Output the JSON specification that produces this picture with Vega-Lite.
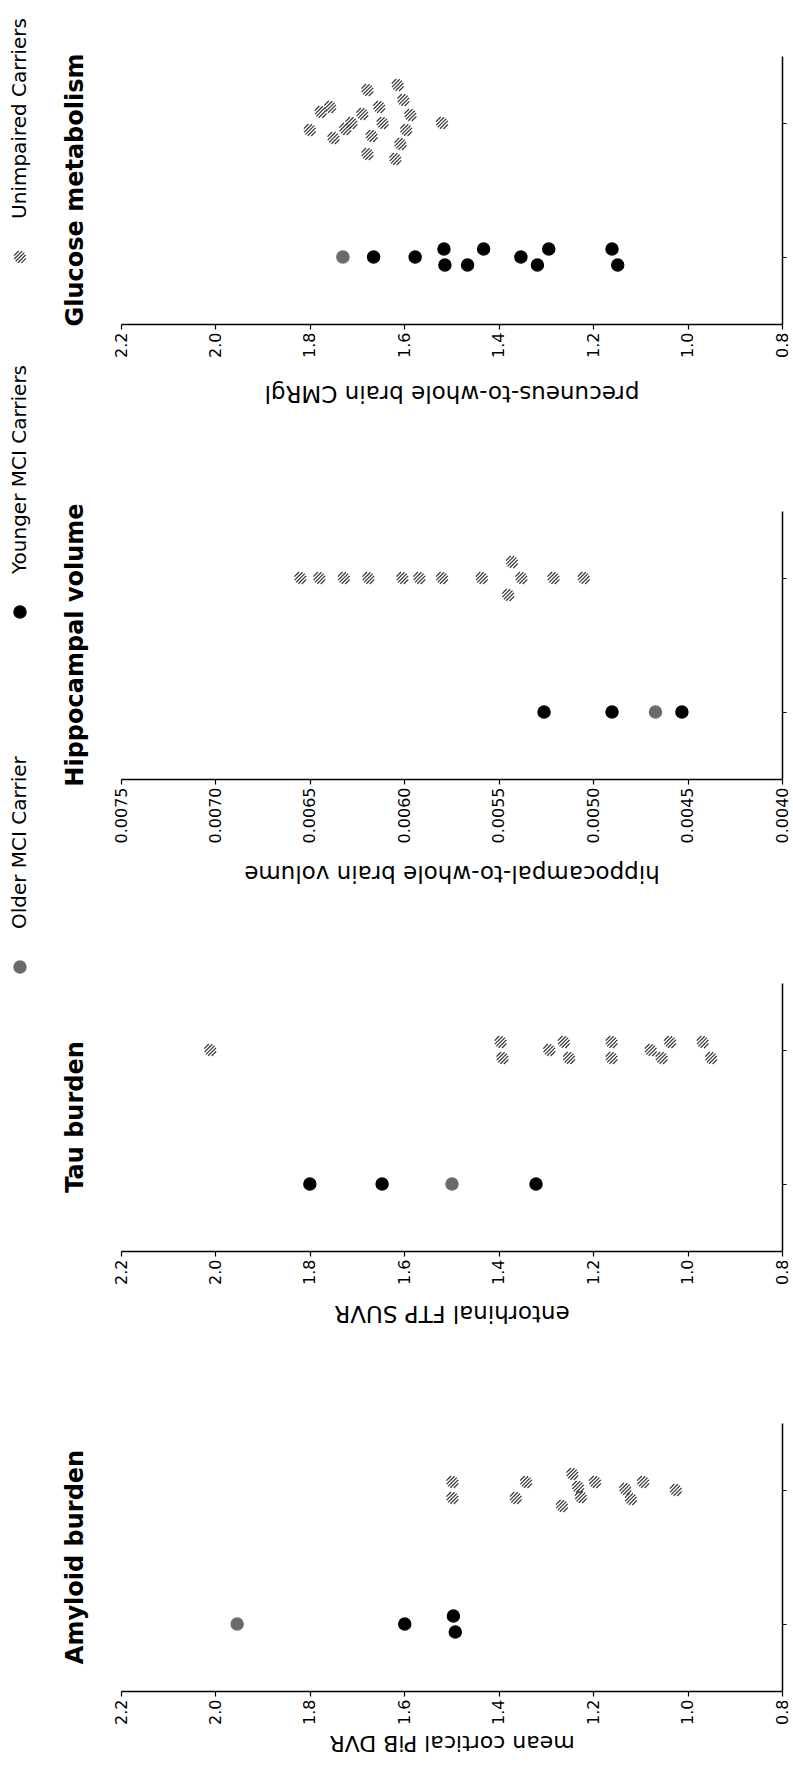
{
  "$schema": "https://vega.github.io/schema/vega-lite/v6.json",
  "padding": {"left": 0, "top": 18, "right": 0, "bottom": 0},
  "background": "white",
  "config": {"view": {"stroke": null}, "font": "DejaVu Sans"},
  "datasets": {
    "legend": [
      {"group": "Older MCI Carrier"},
      {"group": "Younger MCI Carriers"},
      {"group": "Unimpaired Carriers"}
    ],
    "points": [
      {"measure": "glucose", "group": "Older MCI Carrier", "cohort": "MCI", "value": 1.73, "jitter": 0},
      {"measure": "glucose", "group": "Younger MCI Carriers", "cohort": "MCI", "value": 1.665, "jitter": 0},
      {"measure": "glucose", "group": "Younger MCI Carriers", "cohort": "MCI", "value": 1.577, "jitter": 0},
      {"measure": "glucose", "group": "Younger MCI Carriers", "cohort": "MCI", "value": 1.516, "jitter": -8},
      {"measure": "glucose", "group": "Younger MCI Carriers", "cohort": "MCI", "value": 1.514, "jitter": 8},
      {"measure": "glucose", "group": "Younger MCI Carriers", "cohort": "MCI", "value": 1.466, "jitter": 8},
      {"measure": "glucose", "group": "Younger MCI Carriers", "cohort": "MCI", "value": 1.432, "jitter": -8},
      {"measure": "glucose", "group": "Younger MCI Carriers", "cohort": "MCI", "value": 1.353, "jitter": 0},
      {"measure": "glucose", "group": "Younger MCI Carriers", "cohort": "MCI", "value": 1.318, "jitter": 8},
      {"measure": "glucose", "group": "Younger MCI Carriers", "cohort": "MCI", "value": 1.294, "jitter": -8},
      {"measure": "glucose", "group": "Younger MCI Carriers", "cohort": "MCI", "value": 1.16, "jitter": -8},
      {"measure": "glucose", "group": "Younger MCI Carriers", "cohort": "MCI", "value": 1.148, "jitter": 8},
      {"measure": "glucose", "group": "Unimpaired Carriers", "cohort": "Unimpaired", "value": 1.8, "jitter": 7},
      {"measure": "glucose", "group": "Unimpaired Carriers", "cohort": "Unimpaired", "value": 1.777, "jitter": -11},
      {"measure": "glucose", "group": "Unimpaired Carriers", "cohort": "Unimpaired", "value": 1.757, "jitter": -16},
      {"measure": "glucose", "group": "Unimpaired Carriers", "cohort": "Unimpaired", "value": 1.75, "jitter": 15},
      {"measure": "glucose", "group": "Unimpaired Carriers", "cohort": "Unimpaired", "value": 1.725, "jitter": 6},
      {"measure": "glucose", "group": "Unimpaired Carriers", "cohort": "Unimpaired", "value": 1.712, "jitter": 0},
      {"measure": "glucose", "group": "Unimpaired Carriers", "cohort": "Unimpaired", "value": 1.689, "jitter": -9},
      {"measure": "glucose", "group": "Unimpaired Carriers", "cohort": "Unimpaired", "value": 1.678, "jitter": -33},
      {"measure": "glucose", "group": "Unimpaired Carriers", "cohort": "Unimpaired", "value": 1.669, "jitter": 13},
      {"measure": "glucose", "group": "Unimpaired Carriers", "cohort": "Unimpaired", "value": 1.653, "jitter": -16},
      {"measure": "glucose", "group": "Unimpaired Carriers", "cohort": "Unimpaired", "value": 1.646, "jitter": 0},
      {"measure": "glucose", "group": "Unimpaired Carriers", "cohort": "Unimpaired", "value": 1.678, "jitter": 31},
      {"measure": "glucose", "group": "Unimpaired Carriers", "cohort": "Unimpaired", "value": 1.614, "jitter": -38},
      {"measure": "glucose", "group": "Unimpaired Carriers", "cohort": "Unimpaired", "value": 1.602, "jitter": -23},
      {"measure": "glucose", "group": "Unimpaired Carriers", "cohort": "Unimpaired", "value": 1.587, "jitter": -8},
      {"measure": "glucose", "group": "Unimpaired Carriers", "cohort": "Unimpaired", "value": 1.596, "jitter": 7},
      {"measure": "glucose", "group": "Unimpaired Carriers", "cohort": "Unimpaired", "value": 1.608, "jitter": 21},
      {"measure": "glucose", "group": "Unimpaired Carriers", "cohort": "Unimpaired", "value": 1.619, "jitter": 36},
      {"measure": "glucose", "group": "Unimpaired Carriers", "cohort": "Unimpaired", "value": 1.52, "jitter": 0},
      {"measure": "hippo", "group": "Younger MCI Carriers", "cohort": "MCI", "value": 0.00526, "jitter": 0},
      {"measure": "hippo", "group": "Younger MCI Carriers", "cohort": "MCI", "value": 0.0049, "jitter": 0},
      {"measure": "hippo", "group": "Older MCI Carrier", "cohort": "MCI", "value": 0.00467, "jitter": 0},
      {"measure": "hippo", "group": "Younger MCI Carriers", "cohort": "MCI", "value": 0.00453, "jitter": 0},
      {"measure": "hippo", "group": "Unimpaired Carriers", "cohort": "Unimpaired", "value": 0.00655, "jitter": 0},
      {"measure": "hippo", "group": "Unimpaired Carriers", "cohort": "Unimpaired", "value": 0.00645, "jitter": 0},
      {"measure": "hippo", "group": "Unimpaired Carriers", "cohort": "Unimpaired", "value": 0.00632, "jitter": 0},
      {"measure": "hippo", "group": "Unimpaired Carriers", "cohort": "Unimpaired", "value": 0.00619, "jitter": 0},
      {"measure": "hippo", "group": "Unimpaired Carriers", "cohort": "Unimpaired", "value": 0.00601, "jitter": 0},
      {"measure": "hippo", "group": "Unimpaired Carriers", "cohort": "Unimpaired", "value": 0.00592, "jitter": 0},
      {"measure": "hippo", "group": "Unimpaired Carriers", "cohort": "Unimpaired", "value": 0.0058, "jitter": 0},
      {"measure": "hippo", "group": "Unimpaired Carriers", "cohort": "Unimpaired", "value": 0.00559, "jitter": 0},
      {"measure": "hippo", "group": "Unimpaired Carriers", "cohort": "Unimpaired", "value": 0.00543, "jitter": -16},
      {"measure": "hippo", "group": "Unimpaired Carriers", "cohort": "Unimpaired", "value": 0.00538, "jitter": 0},
      {"measure": "hippo", "group": "Unimpaired Carriers", "cohort": "Unimpaired", "value": 0.00545, "jitter": 17},
      {"measure": "hippo", "group": "Unimpaired Carriers", "cohort": "Unimpaired", "value": 0.00521, "jitter": 0},
      {"measure": "hippo", "group": "Unimpaired Carriers", "cohort": "Unimpaired", "value": 0.00505, "jitter": 0},
      {"measure": "tau", "group": "Younger MCI Carriers", "cohort": "MCI", "value": 1.8, "jitter": 0},
      {"measure": "tau", "group": "Younger MCI Carriers", "cohort": "MCI", "value": 1.647, "jitter": 0},
      {"measure": "tau", "group": "Older MCI Carrier", "cohort": "MCI", "value": 1.499, "jitter": 0},
      {"measure": "tau", "group": "Younger MCI Carriers", "cohort": "MCI", "value": 1.321, "jitter": 0},
      {"measure": "tau", "group": "Unimpaired Carriers", "cohort": "Unimpaired", "value": 2.011, "jitter": 0},
      {"measure": "tau", "group": "Unimpaired Carriers", "cohort": "Unimpaired", "value": 1.396, "jitter": -8},
      {"measure": "tau", "group": "Unimpaired Carriers", "cohort": "Unimpaired", "value": 1.392, "jitter": 8},
      {"measure": "tau", "group": "Unimpaired Carriers", "cohort": "Unimpaired", "value": 1.293, "jitter": 0},
      {"measure": "tau", "group": "Unimpaired Carriers", "cohort": "Unimpaired", "value": 1.262, "jitter": -8},
      {"measure": "tau", "group": "Unimpaired Carriers", "cohort": "Unimpaired", "value": 1.251, "jitter": 8},
      {"measure": "tau", "group": "Unimpaired Carriers", "cohort": "Unimpaired", "value": 1.161, "jitter": -8},
      {"measure": "tau", "group": "Unimpaired Carriers", "cohort": "Unimpaired", "value": 1.161, "jitter": 8},
      {"measure": "tau", "group": "Unimpaired Carriers", "cohort": "Unimpaired", "value": 1.078, "jitter": 0},
      {"measure": "tau", "group": "Unimpaired Carriers", "cohort": "Unimpaired", "value": 1.055, "jitter": 8},
      {"measure": "tau", "group": "Unimpaired Carriers", "cohort": "Unimpaired", "value": 1.037, "jitter": -8},
      {"measure": "tau", "group": "Unimpaired Carriers", "cohort": "Unimpaired", "value": 0.968, "jitter": -8},
      {"measure": "tau", "group": "Unimpaired Carriers", "cohort": "Unimpaired", "value": 0.95, "jitter": 8},
      {"measure": "amyloid", "group": "Older MCI Carrier", "cohort": "MCI", "value": 1.954, "jitter": 0},
      {"measure": "amyloid", "group": "Younger MCI Carriers", "cohort": "MCI", "value": 1.599, "jitter": 0},
      {"measure": "amyloid", "group": "Younger MCI Carriers", "cohort": "MCI", "value": 1.496, "jitter": -8},
      {"measure": "amyloid", "group": "Younger MCI Carriers", "cohort": "MCI", "value": 1.492, "jitter": 8},
      {"measure": "amyloid", "group": "Unimpaired Carriers", "cohort": "Unimpaired", "value": 1.498, "jitter": -8},
      {"measure": "amyloid", "group": "Unimpaired Carriers", "cohort": "Unimpaired", "value": 1.498, "jitter": 8},
      {"measure": "amyloid", "group": "Unimpaired Carriers", "cohort": "Unimpaired", "value": 1.364, "jitter": 8},
      {"measure": "amyloid", "group": "Unimpaired Carriers", "cohort": "Unimpaired", "value": 1.342, "jitter": -8},
      {"measure": "amyloid", "group": "Unimpaired Carriers", "cohort": "Unimpaired", "value": 1.266, "jitter": 16},
      {"measure": "amyloid", "group": "Unimpaired Carriers", "cohort": "Unimpaired", "value": 1.244, "jitter": -16},
      {"measure": "amyloid", "group": "Unimpaired Carriers", "cohort": "Unimpaired", "value": 1.232, "jitter": -3},
      {"measure": "amyloid", "group": "Unimpaired Carriers", "cohort": "Unimpaired", "value": 1.226, "jitter": 7},
      {"measure": "amyloid", "group": "Unimpaired Carriers", "cohort": "Unimpaired", "value": 1.196, "jitter": -8},
      {"measure": "amyloid", "group": "Unimpaired Carriers", "cohort": "Unimpaired", "value": 1.132, "jitter": -1},
      {"measure": "amyloid", "group": "Unimpaired Carriers", "cohort": "Unimpaired", "value": 1.12, "jitter": 9},
      {"measure": "amyloid", "group": "Unimpaired Carriers", "cohort": "Unimpaired", "value": 1.094, "jitter": -8},
      {"measure": "amyloid", "group": "Unimpaired Carriers", "cohort": "Unimpaired", "value": 1.025, "jitter": 0}
    ]
  },
  "spacing": 23,
  "hconcat": [
    {
      "width": 40,
      "height": 1112,
      "data": {"name": "legend"},
      "layer": [
        {
          "mark": {"type": "point", "filled": true, "size": 150, "strokeWidth": 1.2, "opacity": 1},
          "encoding": {
            "y": {"field": "group", "type": "nominal", "scale": {"type": "point", "domain": ["Unimpaired Carriers", "Younger MCI Carriers", "Older MCI Carrier"], "padding": 0.566}, "axis": null},
            "fill": {"field": "group", "type": "nominal", "scale": {"domain": ["Older MCI Carrier", "Younger MCI Carriers", "Unimpaired Carriers"], "range": ["#6a6a6a", "#000000", "#ffffff"]}, "legend": null},
            "stroke": {"field": "group", "type": "nominal", "scale": {"domain": ["Older MCI Carrier", "Younger MCI Carriers", "Unimpaired Carriers"], "range": ["#6a6a6a", "#000000", "#333333"]}, "legend": null},
            "shape": {"field": "group", "type": "nominal", "scale": {"domain": ["Older MCI Carrier", "Younger MCI Carriers", "Unimpaired Carriers"], "range": ["circle", "circle", "M-0.974,-0.226L-0.226,-0.974M-0.94,0.34L0.34,-0.94M-0.707,0.707L0.707,-0.707M-0.34,0.94L0.94,-0.34M0.226,0.974L0.974,0.226"]}, "legend": null}
          }
        },
        {
          "mark": {"type": "text", "angle": 270, "align": "left", "baseline": "middle", "dx": 38, "fontSize": 20, "color": "black"},
          "encoding": {
            "y": {"field": "group", "type": "nominal", "scale": {"type": "point", "domain": ["Unimpaired Carriers", "Younger MCI Carriers", "Older MCI Carrier"], "padding": 0.566}, "axis": null},
            "text": {"field": "group", "type": "nominal"}
          }
        }
      ]
    },
    {
      "spacing": 99,
      "vconcat": [
        {
          "width": 661, "height": 268,
          "title": {"text": "Glucose metabolism", "orient": "left", "anchor": "middle", "fontSize": 24, "fontWeight": "bold", "offset": 25},
          "data": {"name": "points"},
          "transform": [{"filter": "datum.measure === 'glucose'"}],
          "mark": {"type": "point", "filled": true, "size": 150, "strokeWidth": 1.2, "opacity": 1},
          "encoding": {
            "x": {"field": "value", "type": "quantitative", "scale": {"domain": [0.8, 2.2], "reverse": true, "nice": false, "zero": false},
              "axis": {"values": [0.8, 1.0, 1.2, 1.4, 1.6, 1.8, 2.0, 2.2], "format": ".1f", "grid": false, "labelAngle": 270, "labelFontSize": 16, "labelPadding": 3, "labelFlush": false, "labelOverlap": false, "labelColor": "black", "tickSize": 5, "tickColor": "black", "tickWidth": 1.2, "domainColor": "black", "domainWidth": 1.5, "title": "precuneus-to-whole brain CMRgl", "titleAngle": 180, "titleBaseline": "bottom", "titleFontSize": 23, "titleFontWeight": "normal", "titleColor": "black", "titlePadding": 23}},
            "y": {"field": "cohort", "type": "nominal", "scale": {"domain": ["Unimpaired", "MCI"], "paddingInner": 0, "paddingOuter": 0}, "axis": {"orient": "right", "labels": false, "title": null, "tickSize": 4, "tickColor": "black", "domainColor": "black", "domainWidth": 1.5}},
            "yOffset": {"field": "jitter", "type": "quantitative", "scale": {"domain": [-67, 67]}},
            "fill": {"field": "group", "type": "nominal", "scale": {"domain": ["Older MCI Carrier", "Younger MCI Carriers", "Unimpaired Carriers"], "range": ["#6a6a6a", "#000000", "#ffffff"]}, "legend": null},
            "stroke": {"field": "group", "type": "nominal", "scale": {"domain": ["Older MCI Carrier", "Younger MCI Carriers", "Unimpaired Carriers"], "range": ["#6a6a6a", "#000000", "#333333"]}, "legend": null},
            "shape": {"field": "group", "type": "nominal", "scale": {"domain": ["Older MCI Carrier", "Younger MCI Carriers", "Unimpaired Carriers"], "range": ["circle", "circle", "M-0.974,-0.226L-0.226,-0.974M-0.94,0.34L0.34,-0.94M-0.707,0.707L0.707,-0.707M-0.34,0.94L0.94,-0.34M0.226,0.974L0.974,0.226"]}, "legend": null}
          }
        },
        {
          "width": 661, "height": 268,
          "title": {"text": "Hippocampal volume", "orient": "left", "anchor": "middle", "fontSize": 24, "fontWeight": "bold", "offset": 25},
          "data": {"name": "points"},
          "transform": [{"filter": "datum.measure === 'hippo'"}],
          "mark": {"type": "point", "filled": true, "size": 150, "strokeWidth": 1.2, "opacity": 1},
          "encoding": {
            "x": {"field": "value", "type": "quantitative", "scale": {"domain": [0.004, 0.0075], "reverse": true, "nice": false, "zero": false},
              "axis": {"values": [0.004, 0.0045, 0.005, 0.0055, 0.006, 0.0065, 0.007, 0.0075], "format": ".4f", "grid": false, "labelAngle": 270, "labelFontSize": 16, "labelPadding": 3, "labelFlush": false, "labelOverlap": false, "labelColor": "black", "tickSize": 5, "tickColor": "black", "tickWidth": 1.2, "domainColor": "black", "domainWidth": 1.5, "title": "hippocampal-to-whole brain volume", "titleAngle": 180, "titleBaseline": "bottom", "titleFontSize": 23, "titleFontWeight": "normal", "titleColor": "black", "titlePadding": 18}},
            "y": {"field": "cohort", "type": "nominal", "scale": {"domain": ["Unimpaired", "MCI"], "paddingInner": 0, "paddingOuter": 0}, "axis": {"orient": "right", "labels": false, "title": null, "tickSize": 4, "tickColor": "black", "domainColor": "black", "domainWidth": 1.5}},
            "yOffset": {"field": "jitter", "type": "quantitative", "scale": {"domain": [-67, 67]}},
            "fill": {"field": "group", "type": "nominal", "scale": {"domain": ["Older MCI Carrier", "Younger MCI Carriers", "Unimpaired Carriers"], "range": ["#6a6a6a", "#000000", "#ffffff"]}, "legend": null},
            "stroke": {"field": "group", "type": "nominal", "scale": {"domain": ["Older MCI Carrier", "Younger MCI Carriers", "Unimpaired Carriers"], "range": ["#6a6a6a", "#000000", "#333333"]}, "legend": null},
            "shape": {"field": "group", "type": "nominal", "scale": {"domain": ["Older MCI Carrier", "Younger MCI Carriers", "Unimpaired Carriers"], "range": ["circle", "circle", "M-0.974,-0.226L-0.226,-0.974M-0.94,0.34L0.34,-0.94M-0.707,0.707L0.707,-0.707M-0.34,0.94L0.94,-0.34M0.226,0.974L0.974,0.226"]}, "legend": null}
          }
        },
        {
          "width": 661, "height": 268,
          "title": {"text": "Tau burden", "orient": "left", "anchor": "middle", "fontSize": 24, "fontWeight": "bold", "offset": 25},
          "data": {"name": "points"},
          "transform": [{"filter": "datum.measure === 'tau'"}],
          "mark": {"type": "point", "filled": true, "size": 150, "strokeWidth": 1.2, "opacity": 1},
          "encoding": {
            "x": {"field": "value", "type": "quantitative", "scale": {"domain": [0.8, 2.2], "reverse": true, "nice": false, "zero": false},
              "axis": {"values": [0.8, 1.0, 1.2, 1.4, 1.6, 1.8, 2.0, 2.2], "format": ".1f", "grid": false, "labelAngle": 270, "labelFontSize": 16, "labelPadding": 3, "labelFlush": false, "labelOverlap": false, "labelColor": "black", "tickSize": 5, "tickColor": "black", "tickWidth": 1.2, "domainColor": "black", "domainWidth": 1.5, "title": "entorhinal FTP SUVR", "titleAngle": 180, "titleBaseline": "bottom", "titleFontSize": 23, "titleFontWeight": "normal", "titleColor": "black", "titlePadding": 16}},
            "y": {"field": "cohort", "type": "nominal", "scale": {"domain": ["Unimpaired", "MCI"], "paddingInner": 0, "paddingOuter": 0}, "axis": {"orient": "right", "labels": false, "title": null, "tickSize": 4, "tickColor": "black", "domainColor": "black", "domainWidth": 1.5}},
            "yOffset": {"field": "jitter", "type": "quantitative", "scale": {"domain": [-67, 67]}},
            "fill": {"field": "group", "type": "nominal", "scale": {"domain": ["Older MCI Carrier", "Younger MCI Carriers", "Unimpaired Carriers"], "range": ["#6a6a6a", "#000000", "#ffffff"]}, "legend": null},
            "stroke": {"field": "group", "type": "nominal", "scale": {"domain": ["Older MCI Carrier", "Younger MCI Carriers", "Unimpaired Carriers"], "range": ["#6a6a6a", "#000000", "#333333"]}, "legend": null},
            "shape": {"field": "group", "type": "nominal", "scale": {"domain": ["Older MCI Carrier", "Younger MCI Carriers", "Unimpaired Carriers"], "range": ["circle", "circle", "M-0.974,-0.226L-0.226,-0.974M-0.94,0.34L0.34,-0.94M-0.707,0.707L0.707,-0.707M-0.34,0.94L0.94,-0.34M0.226,0.974L0.974,0.226"]}, "legend": null}
          }
        },
        {
          "width": 661, "height": 268,
          "title": {"text": "Amyloid burden", "orient": "left", "anchor": "middle", "fontSize": 24, "fontWeight": "bold", "offset": 25},
          "data": {"name": "points"},
          "transform": [{"filter": "datum.measure === 'amyloid'"}],
          "mark": {"type": "point", "filled": true, "size": 150, "strokeWidth": 1.2, "opacity": 1},
          "encoding": {
            "x": {"field": "value", "type": "quantitative", "scale": {"domain": [0.8, 2.2], "reverse": true, "nice": false, "zero": false},
              "axis": {"values": [0.8, 1.0, 1.2, 1.4, 1.6, 1.8, 2.0, 2.2], "format": ".1f", "grid": false, "labelAngle": 270, "labelFontSize": 16, "labelPadding": 3, "labelFlush": false, "labelOverlap": false, "labelColor": "black", "tickSize": 5, "tickColor": "black", "tickWidth": 1.2, "domainColor": "black", "domainWidth": 1.5, "title": "mean cortical PiB DVR", "titleAngle": 180, "titleBaseline": "bottom", "titleFontSize": 22, "titleFontWeight": "normal", "titleColor": "black", "titlePadding": 6}},
            "y": {"field": "cohort", "type": "nominal", "scale": {"domain": ["Unimpaired", "MCI"], "paddingInner": 0, "paddingOuter": 0}, "axis": {"orient": "right", "labels": false, "title": null, "tickSize": 4, "tickColor": "black", "domainColor": "black", "domainWidth": 1.5}},
            "yOffset": {"field": "jitter", "type": "quantitative", "scale": {"domain": [-67, 67]}},
            "fill": {"field": "group", "type": "nominal", "scale": {"domain": ["Older MCI Carrier", "Younger MCI Carriers", "Unimpaired Carriers"], "range": ["#6a6a6a", "#000000", "#ffffff"]}, "legend": null},
            "stroke": {"field": "group", "type": "nominal", "scale": {"domain": ["Older MCI Carrier", "Younger MCI Carriers", "Unimpaired Carriers"], "range": ["#6a6a6a", "#000000", "#333333"]}, "legend": null},
            "shape": {"field": "group", "type": "nominal", "scale": {"domain": ["Older MCI Carrier", "Younger MCI Carriers", "Unimpaired Carriers"], "range": ["circle", "circle", "M-0.974,-0.226L-0.226,-0.974M-0.94,0.34L0.34,-0.94M-0.707,0.707L0.707,-0.707M-0.34,0.94L0.94,-0.34M0.226,0.974L0.974,0.226"]}, "legend": null}
          }
        }
      ]
    }
  ]
}
